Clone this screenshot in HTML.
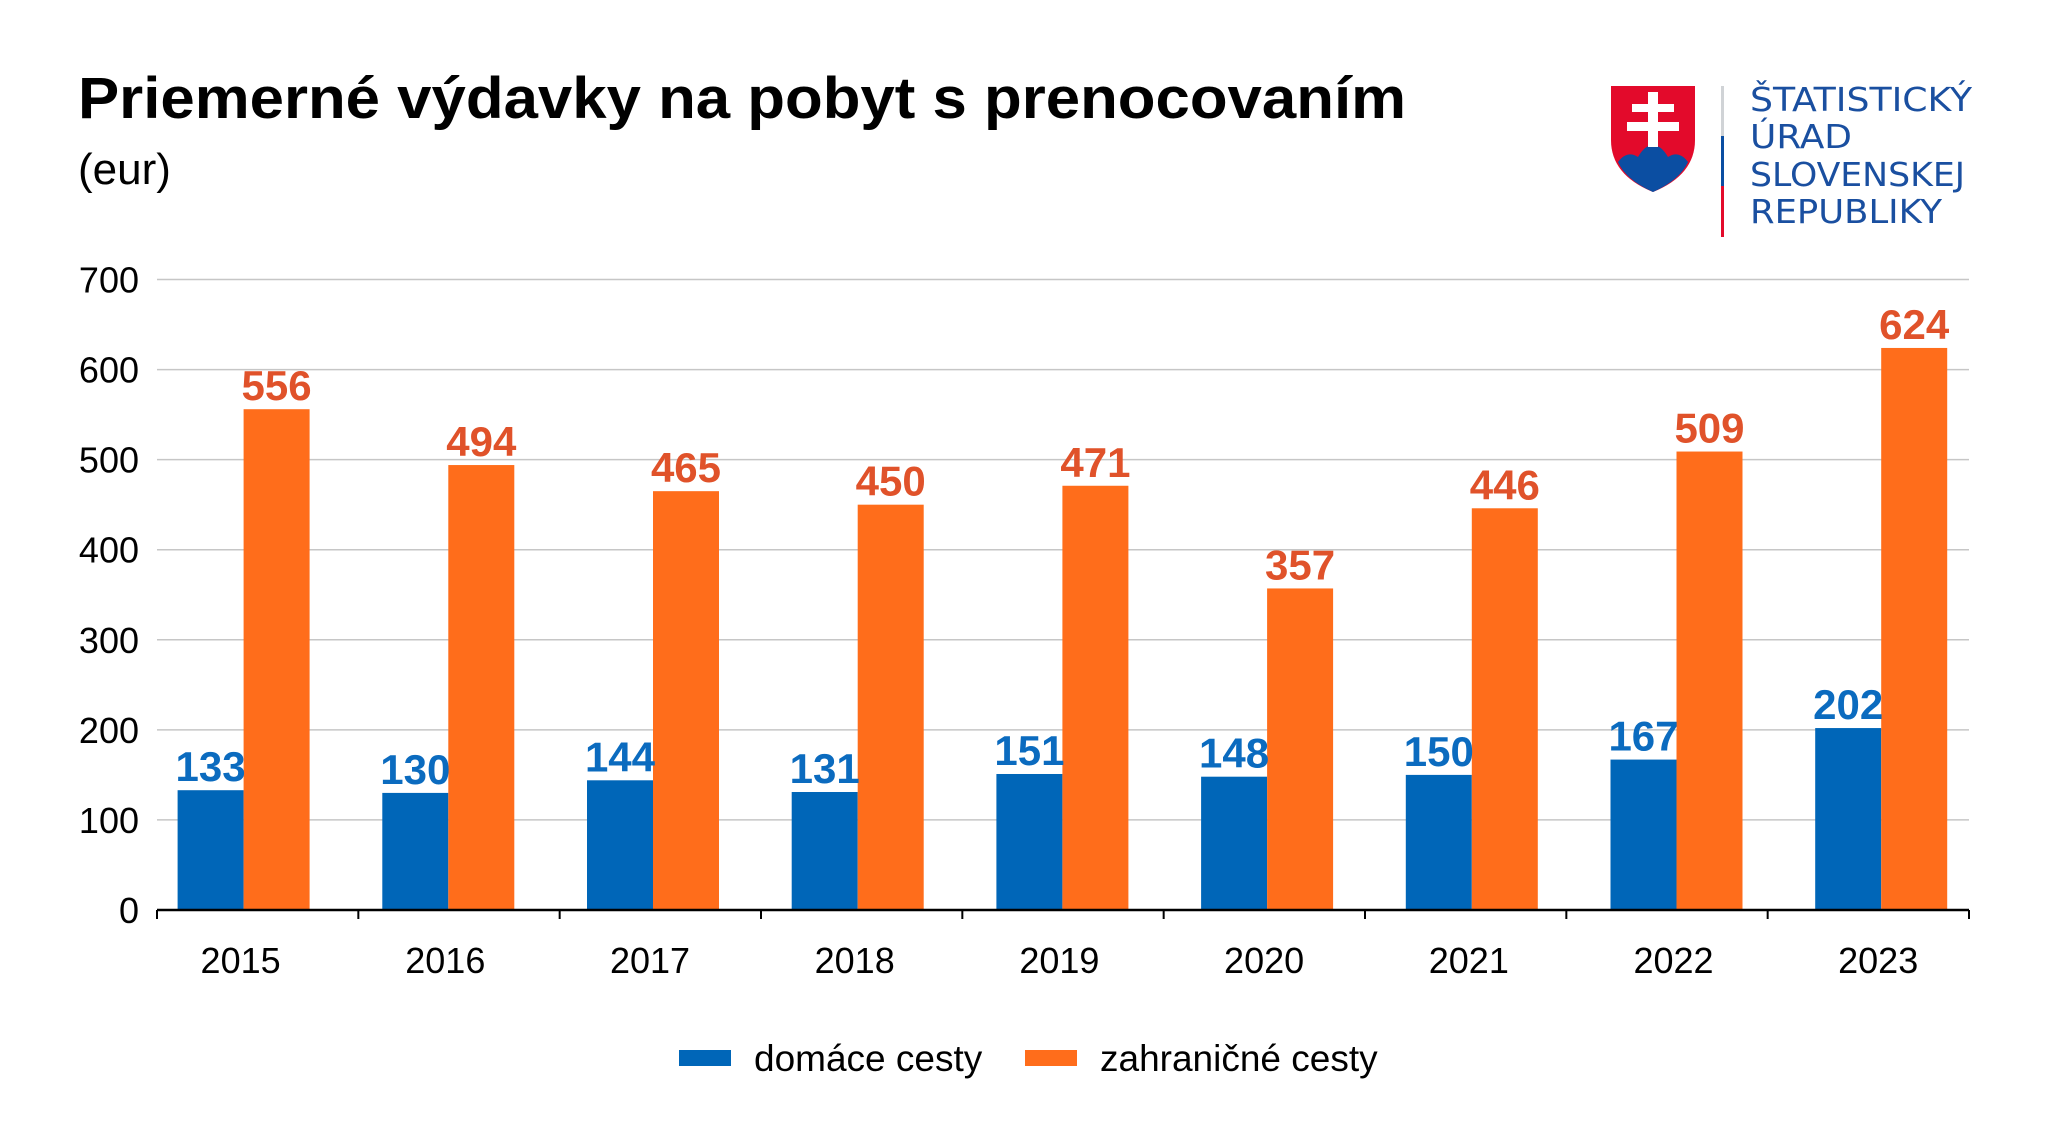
<!DOCTYPE html>
<html><head><meta charset="utf-8"><style>
html,body{margin:0;padding:0;background:#fff}
svg{display:block;font-family:"Liberation Sans",Arial,sans-serif}
</style></head><body>
<svg id="chart" width="2048" height="1148" viewBox="0 0 2048 1148" xmlns="http://www.w3.org/2000/svg">
<rect width="2048" height="1148" fill="#fff"/>
<text x="78" y="118" font-size="58" font-weight="bold" fill="#000" textLength="1328" lengthAdjust="spacingAndGlyphs">Priemerné výdavky na pobyt s prenocovaním</text>
<text x="78" y="184" font-size="44" fill="#000">(eur)</text>
<g>
  <path d="M1611 86 H1695 V140 Q1695 175 1653 192 Q1611 175 1611 140 Z" fill="#e30a2b"/>
  <path d="M1618 162 Q1627 150 1638 157 Q1645 145 1653 145 Q1661 145 1668 157 Q1679 150 1688 162 Q1680 180 1653 192 Q1626 180 1618 162 Z" fill="#0b4ea2"/>
  <rect x="1648" y="92" width="10" height="55" fill="#fff"/>
  <rect x="1632" y="104" width="42" height="8" fill="#fff"/>
  <rect x="1627" y="122" width="52" height="9" fill="#fff"/>
  <rect x="1721" y="86" width="3" height="50" fill="#d0d3d6"/>
  <rect x="1721" y="136" width="3" height="50" fill="#0b4ea2"/>
  <rect x="1721" y="186" width="3" height="51" fill="#e30a2b"/>
  <g font-size="33" fill="#1a4fa0" font-family="'DejaVu Sans Condensed','Liberation Sans',sans-serif">
    <text x="1750" y="111" textLength="222" lengthAdjust="spacingAndGlyphs">ŠTATISTICKÝ</text>
    <text x="1750" y="148" textLength="102" lengthAdjust="spacingAndGlyphs">ÚRAD</text>
    <text x="1750" y="186" textLength="215" lengthAdjust="spacingAndGlyphs">SLOVENSKEJ</text>
    <text x="1750" y="223" textLength="192" lengthAdjust="spacingAndGlyphs">REPUBLIKY</text>
  </g>
</g>
<g id="grid"></g>
<g id="bars"></g>
<g id="axes"></g>
<g>
  <rect x="679" y="1050" width="52" height="16" fill="#0066b8"/>
  <text x="754" y="1071" font-size="37" fill="#000">domáce cesty</text>
  <rect x="1025" y="1050" width="52" height="16" fill="#ff6d1b"/>
  <text x="1100" y="1071" font-size="37" fill="#000">zahraničné cesty</text>
</g>
</svg>
<script>
const categories = ["2015","2016","2017","2018","2019","2020","2021","2022","2023"];
const domestic = [133,130,144,131,151,148,150,167,202];
const foreign = [556,494,465,450,471,357,446,509,624];
const yTicks = [0,100,200,300,400,500,600,700];

const NS = "http://www.w3.org/2000/svg";
const x0 = 157, x1 = 1969, yBase = 910, yTop = 279.5, yMax = 700;
const catW = (x1 - x0) / categories.length;
const barStart = 177.6, barStep = 204.7, barW = 66;
const y = v => yBase - (v / yMax) * (yBase - yTop);
function mk(tag, attrs, parent) {
  const e = document.createElementNS(NS, tag);
  for (const k in attrs) e.setAttribute(k, attrs[k]);
  parent.appendChild(e);
  return e;
}
const grid = document.getElementById('grid');
const bars = document.getElementById('bars');
const axes = document.getElementById('axes');
yTicks.forEach(t => {
  if (t > 0) {
    const l = mk('line', {x1: x0, x2: x1, y1: y(t), y2: y(t), stroke: '#c6c6c6', 'stroke-width': 1.5}, grid);
    
    
  }
  const tx = mk('text', {x: 139, y: y(t) + 13, 'font-size': 36, 'text-anchor': 'end', fill: '#000'}, axes);
  tx.textContent = t;
  
  
});
categories.forEach((c, i) => {
  const bx = barStart + i * barStep;
  const b1 = mk('rect', {x: bx, y: y(domestic[i]), width: barW, height: yBase - y(domestic[i]), fill: '#0066b8'}, bars);
  
  
  const b2 = mk('rect', {x: bx + barW, y: y(foreign[i]), width: barW, height: yBase - y(foreign[i]), fill: '#ff6d1b'}, bars);
  
  
  const l1 = mk('text', {x: bx + barW / 2, y: y(domestic[i]) - 9, 'font-size': 42, 'font-weight': 'bold', 'text-anchor': 'middle', fill: '#0b6bbf'}, bars);
  l1.textContent = domestic[i];
  
  
  const l2 = mk('text', {x: bx + barW * 1.5, y: y(foreign[i]) - 9, 'font-size': 42, 'font-weight': 'bold', 'text-anchor': 'middle', fill: '#e0522a'}, bars);
  l2.textContent = foreign[i];
  
  
  const xl = mk('text', {x: bx + barW - 3, y: 973, 'font-size': 36, 'text-anchor': 'middle', fill: '#000'}, axes);
  xl.textContent = c;
  
  
});
for (let i = 0; i <= categories.length; i++) {
  const tk = mk('line', {x1: x0 + i * catW, x2: x0 + i * catW, y1: yBase, y2: yBase + 9, stroke: '#000', 'stroke-width': 2}, axes);
  
  
}
const ax = mk('line', {x1: x0, x2: x1, y1: yBase, y2: yBase, stroke: '#000', 'stroke-width': 2.5}, axes);


</script>
</body></html>
